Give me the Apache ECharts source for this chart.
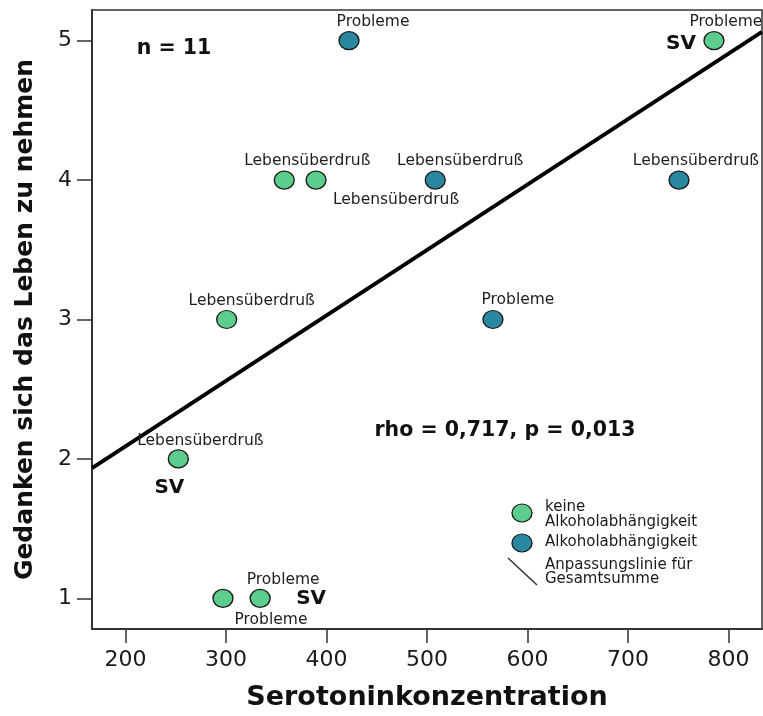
<!DOCTYPE html>
<html><head><meta charset="utf-8">
<script src="https://cdn.jsdelivr.net/npm/echarts@6/dist/echarts.min.js"></script>
<style>html,body{margin:0;padding:0;background:#fff}#c{width:763px;height:716px}</style>
</head><body><div id="c"></div>
<script>
// ---- data ----
const xTicks = [200, 300, 400, 500, 600, 700, 800];
const yTicks = [1, 2, 3, 4, 5];
const greenX = [297, 334, 252.6, 300.7, 358, 389.6, 785.5];
const greenY = [1, 1, 2, 3, 4, 4, 5];
const greenLabels = ['Probleme', 'Probleme', 'Lebensüberdruß', 'Lebensüberdruß', 'Lebensüberdruß', 'Lebensüberdruß', 'Probleme'];
const blueX = [422.4, 508.2, 565.6, 750.7];
const blueY = [5, 4, 3, 4];
const blueLabels = ['Probleme', 'Lebensüberdruß', 'Probleme', 'Lebensüberdruß'];
const svIndex = [1, 2, 6];           // green points marked "SV"
const fitX = [166.7, 833.3];         // fit line ends (Anpassungslinie)
const fitY = [1.934, 5.063];
const xRange = [166.7, 833.3];
const yRange = [0.78, 5.22];

// ---- layout (label offsets in px) ----
const greenOffsets = [[48, 22], [23, -18], [22, -18], [25, -19], [23, -19], [80, 20], [12, -19]];
const blueOffsets = [[24, -19], [25, -19], [25, -20], [17, -19]];
const svOffsets = [[51, 0], [-9, 29], [-33, 3]];

const FONT = 'DejaVu Sans';
const GREEN = '#5ccd8c', BLUE = '#2a87a0', EDGE = '#1a1a1a';

function pts(xs, ys, labels, offs) {
  return xs.map((x, i) => ({
    value: [x, ys[i]], name: labels[i],
    label: { offset: offs[i] }
  }));
}

const chart = echarts.init(document.getElementById('c'), null, { renderer: 'canvas' });
const ptLabel = {
  show: true, position: 'inside', formatter: '{b}', color: '#1e1e1e',
  fontFamily: FONT, fontSize: 15.5, align: 'center', verticalAlign: 'middle',
  textBorderWidth: 0, textBorderColor: 'transparent'
};
chart.setOption({
  animation: false,
  backgroundColor: '#fff',
  grid: { left: 92, top: 10, right: 1, bottom: 87, show: true, borderColor: '#333', borderWidth: 1.5 },
  xAxis: {
    type: 'value', min: xRange[0], max: xRange[1],
    name: 'Serotoninkonzentration', nameLocation: 'middle', nameGap: 55,
    nameTextStyle: { fontFamily: FONT, fontWeight: 'bold', fontSize: 27, color: '#111' },
    axisLine: { show: true, lineStyle: { color: '#333', width: 2 } },
    axisTick: { show: true, inside: false, length: 14, customValues: xTicks, lineStyle: { color: '#333', width: 1.5 } },
    axisLabel: { customValues: xTicks, margin: 20, fontFamily: FONT, fontSize: 22, color: '#1a1a1a' },
    splitLine: { show: false }
  },
  yAxis: {
    type: 'value', min: yRange[0], max: yRange[1],
    name: 'Gedanken sich das Leben zu nehmen', nameLocation: 'middle', nameGap: 54, nameRotate: 90,
    nameTextStyle: { fontFamily: FONT, fontWeight: 'bold', fontSize: 25, color: '#111' },
    axisLine: { show: true, lineStyle: { color: '#333', width: 2 } },
    axisTick: { show: true, inside: false, length: 15, customValues: yTicks, lineStyle: { color: '#333', width: 1.5 } },
    axisLabel: { customValues: yTicks, margin: 20, fontFamily: FONT, fontSize: 22, color: '#1a1a1a' },
    splitLine: { show: false }
  },
  series: [
    {
      type: 'line', data: fitX.map((x, i) => [x, fitY[i]]), symbol: 'none',
      lineStyle: { color: '#000', width: 4 }, z: 1, silent: true
    },
    {
      type: 'scatter', name: 'keine Alkoholabhängigkeit',
      data: pts(greenX, greenY, greenLabels, greenOffsets),
      symbol: 'circle', symbolSize: [20, 18],
      itemStyle: { color: GREEN, borderColor: EDGE, borderWidth: 1.3, opacity: 1 },
      label: ptLabel, z: 3
    },
    {
      type: 'scatter', name: 'Alkoholabhängigkeit',
      data: pts(blueX, blueY, blueLabels, blueOffsets),
      symbol: 'circle', symbolSize: [20, 18],
      itemStyle: { color: BLUE, borderColor: EDGE, borderWidth: 1.3, opacity: 1 },
      label: ptLabel, z: 3
    },
    {
      type: 'scatter', name: 'SV',
      data: svIndex.map((k, i) => ({ value: [greenX[k], greenY[k]], label: { offset: svOffsets[i] } })),
      symbol: 'circle', symbolSize: 1, itemStyle: { color: '#ffffff', opacity: 1 },
      label: { show: true, position: 'inside', formatter: 'SV', fontFamily: FONT, fontWeight: 'bold', fontSize: 20, color: '#111', opacity: 1, textBorderWidth: 0, textBorderColor: 'transparent', align: 'center', verticalAlign: 'middle' },
      z: 2, silent: true
    }
  ],
  graphic: [
    { type: 'text', x: 174, y: 49, style: { text: 'n = 11', font: 'bold 20.5px "DejaVu Sans"', fill: '#111', align: 'center', verticalAlign: 'middle' } },
    { type: 'text', x: 505, y: 431, style: { text: 'rho = 0,717, p = 0,013', font: 'bold 20.5px "DejaVu Sans"', fill: '#111', align: 'center', verticalAlign: 'middle' } },
    { type: 'circle', x: 522, y: 513, scaleX: 10 / 9, shape: { cx: 0, cy: 0, r: 9 }, style: { fill: GREEN, stroke: EDGE, lineWidth: 1.2 } },
    { type: 'circle', x: 522, y: 543, scaleX: 10 / 9, shape: { cx: 0, cy: 0, r: 9 }, style: { fill: BLUE, stroke: EDGE, lineWidth: 1.2 } },
    { type: 'line', shape: { x1: 508, y1: 558, x2: 537, y2: 585 }, style: { stroke: '#333', lineWidth: 1.5 } },
    { type: 'text', x: 545, y: 507, style: { text: 'keine', font: '15px "DejaVu Sans"', fill: '#1a1a1a', verticalAlign: 'middle' } },
    { type: 'text', x: 545, y: 522, style: { text: 'Alkoholabhängigkeit', font: '15px "DejaVu Sans"', fill: '#1a1a1a', verticalAlign: 'middle' } },
    { type: 'text', x: 545, y: 542, style: { text: 'Alkoholabhängigkeit', font: '15px "DejaVu Sans"', fill: '#1a1a1a', verticalAlign: 'middle' } },
    { type: 'text', x: 545, y: 565, style: { text: 'Anpassungslinie für', font: '15px "DejaVu Sans"', fill: '#1a1a1a', verticalAlign: 'middle' } },
    { type: 'text', x: 545, y: 579, style: { text: 'Gesamtsumme', font: '15px "DejaVu Sans"', fill: '#1a1a1a', verticalAlign: 'middle' } }
  ]
});
</script>
</body></html>
